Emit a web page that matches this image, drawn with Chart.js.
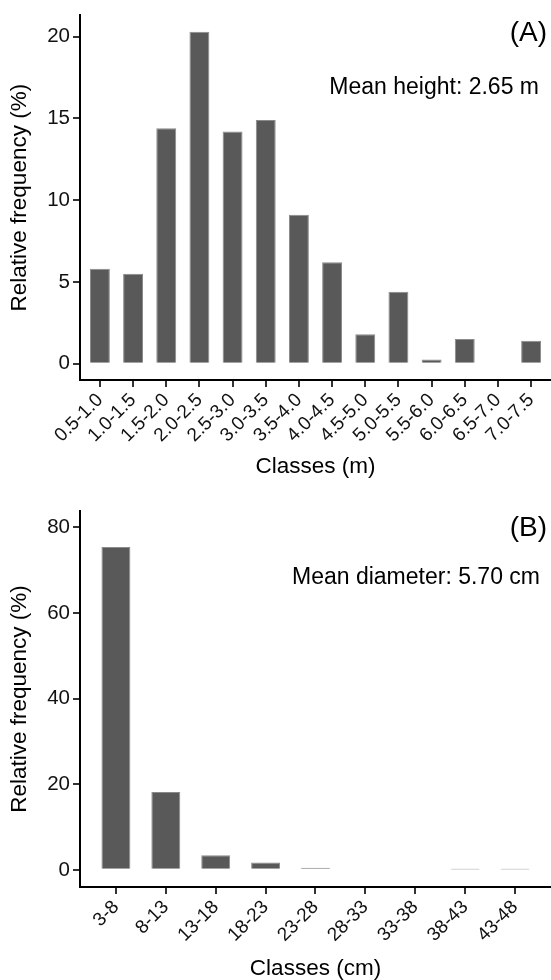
<!DOCTYPE html>
<html>
<head>
<meta charset="utf-8">
<script src="https://cdn.jsdelivr.net/npm/chart.js@4.4.1/dist/chart.umd.min.js"></script>
<style>
  body { margin: 0; background: #fff; }
  canvas { display: block; }
</style>
</head>
<body>
<canvas id="chartA" width="551" height="490"></canvas>
<canvas id="chartB" width="551" height="490"></canvas>
<script>
// (A) height classes
var classesA = ['0.5-1.0', '1.0-1.5', '1.5-2.0', '2.0-2.5', '2.5-3.0', '3.0-3.5', '3.5-4.0',
                '4.0-4.5', '4.5-5.0', '5.0-5.5', '5.5-6.0', '6.0-6.5', '6.5-7.0', '7.0-7.5'];
var freqA = [5.8, 5.5, 14.4, 20.3, 14.2, 14.9, 9.1, 6.2, 1.8, 4.4, 0.25, 1.5, 0, 1.4];
var yTicksA = [0, 5, 10, 15, 20];

// (B) diameter classes
var classesB = ['3-8', '8-13', '13-18', '18-23', '23-28', '28-33', '33-38', '38-43', '43-48'];
var freqB = [75.4, 18.2, 3.4, 1.7, 0.5, 0, 0, 0.1, 0.1];
var yTicksB = [0, 20, 40, 60, 80];

var FONT = "'Liberation Sans', Arial, sans-serif";

var notesPlugin = {
  id: 'notes',
  afterDraw: function(chart, args, opts) {
    var ctx = chart.ctx;
    ctx.save();
    ctx.fillStyle = '#000';
    ctx.textAlign = 'right';
    ctx.textBaseline = 'middle';
    opts.items.forEach(function(n) {
      ctx.font = n.size + 'px ' + FONT;
      ctx.fillText(n.text, n.x, n.y);
    });
    ctx.restore();
  }
};

function makeChart(id, classes, freq, yTicks, c) {
  return new Chart(document.getElementById(id), {
    type: 'bar',
    data: {
      datasets: [{
        data: freq.map(function(v, i) { return {x: i, y: v}; }),
        backgroundColor: '#595959',
        borderColor: '#8a8a8a',
        borderWidth: function(ctx) { return ctx.raw && ctx.raw.y > 0 ? 1 : 0; },
        categoryPercentage: 1,
        barPercentage: c.barPct
      }]
    },
    options: {
      responsive: false,
      animation: false,
      layout: { autoPadding: false, padding: { top: c.top, left: 0, right: 0, bottom: 0 } },
      plugins: {
        legend: { display: false },
        tooltip: { enabled: false },
        notes: { items: c.notes }
      },
      scales: {
        x: {
          type: 'linear',
          min: c.xMin,
          max: c.xMax,
          offset: false,
          bounds: 'data',
          afterBuildTicks: function(s) {
            s.ticks = classes.map(function(_, i) { return {value: i}; });
          },
          afterFit: function(s) { s.height = c.xHeight; },
          ticks: {
            autoSkip: false,
            minRotation: 45,
            maxRotation: 45,
            padding: 2,
            color: '#111',
            font: { family: FONT, size: 19 },
            callback: function(v) { return classes[v]; }
          },
          grid: { drawOnChartArea: false, offset: false, tickLength: 7, color: '#333', lineWidth: 2 },
          border: { display: true, color: '#000', width: 2 },
          title: {
            display: true, text: c.xTitle, color: '#000',
            font: { family: FONT, size: 22.5, lineHeight: 1 },
            padding: { top: 0, bottom: c.titlePad }
          }
        },
        y: {
          min: c.yMin,
          max: c.yMax,
          afterBuildTicks: function(s) {
            s.ticks = yTicks.map(function(v) { return {value: v}; });
          },
          afterFit: function(s) { s.width = 80; },
          ticks: { padding: 3, color: '#111', font: { family: FONT, size: 20.5 } },
          grid: { drawOnChartArea: false, tickLength: 7, color: '#333', lineWidth: 2 },
          border: { display: true, color: '#000', width: 2 },
          title: {
            display: true, text: 'Relative frequency (%)', color: '#000',
            font: { family: FONT, size: 22.5 },
            padding: { top: 6, bottom: 0 }
          }
        }
      }
    },
    plugins: [notesPlugin]
  });
}

makeChart('chartA', classesA, freqA, yTicksA, {
  xMin: -0.6, xMax: 13.6, yMin: -1.0, yMax: 21.3,
  top: 13, xHeight: 110, barPct: 0.6, titlePad: 12,
  xTitle: 'Classes (m)',
  notes: [
    {text: '(A)', x: 547, y: 33, size: 28},
    {text: 'Mean height: 2.65 m', x: 539, y: 88, size: 23}
  ]
});

makeChart('chartB', classesB, freqB, yTicksB, {
  xMin: -0.72, xMax: 8.72, yMin: -4.0, yMax: 83.8,
  top: 21, xHeight: 93, barPct: 0.58, titlePad: 0,
  xTitle: 'Classes (cm)',
  notes: [
    {text: '(B)', x: 547, y: 38, size: 28},
    {text: 'Mean diameter: 5.70 cm', x: 540, y: 88, size: 23}
  ]
});
</script>
</body>
</html>
